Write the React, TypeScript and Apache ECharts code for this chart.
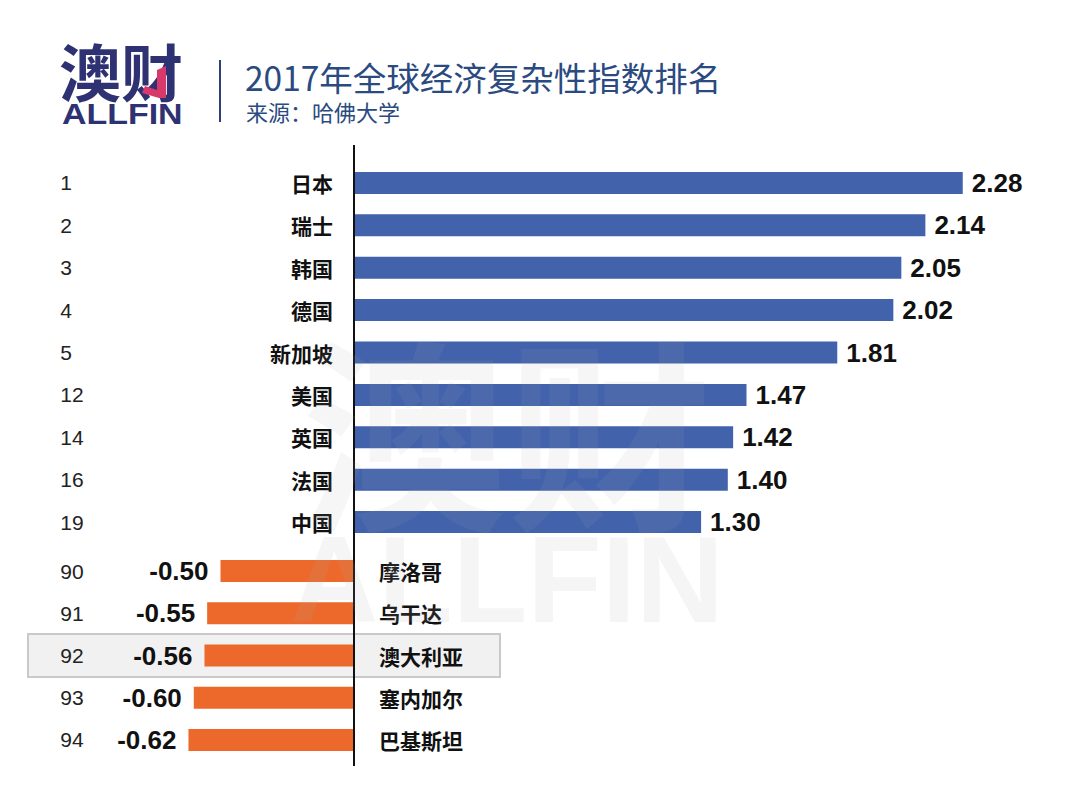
import React, { useEffect, useRef } from "react";
import * as echarts from "echarts";

const ranksTop = ["1", "2", "3", "4", "5", "12", "14", "16", "19"];
const countriesTop = ["日本", "瑞士", "韩国", "德国", "新加坡", "美国", "英国", "法国", "中国"];
const valuesTop = [2.28, 2.14, 2.05, 2.02, 1.81, 1.47, 1.42, 1.4, 1.3];

const ranksBottom = ["90", "91", "92", "93", "94"];
const countriesBottom = ["摩洛哥", "乌干达", "澳大利亚", "塞内加尔", "巴基斯坦"];
const valuesBottom = [-0.5, -0.55, -0.56, -0.6, -0.62];

const titleText = "2017年全球经济复杂性指数排名";
const subtitleText = "来源：哈佛大学";

const FONT = "'Liberation Sans', 'Noto Sans CJK SC', sans-serif";
const CJK = "'Noto Sans CJK SC', sans-serif";
const BLUE = "#4262ac";
const ORANGE = "#ec692b";
const NAVY = "#2e3272";

const K = 267; // px per unit
const ZERO_X = 354;
const X_MIN = -1.1;
const X_MAX = 2.5;

export default function App() {
  const ref = useRef<HTMLDivElement>(null);
  useEffect(() => {
    if (!ref.current) return;
    const chart = echarts.init(ref.current, null, { renderer: "svg" });
    const left = ZERO_X + X_MIN * K;
    const width = (X_MAX - X_MIN) * K;
    const right = 1067 - left - width;
    const rightEdge = left + width;

    const option: any = {
      animation: false,
      backgroundColor: "#ffffff",
      grid: [
        { left, right, top: 161.8, height: 381.4, containLabel: false, outerBoundsMode: "none" },
        { left, right, top: 549.9, height: 211.2, containLabel: false, outerBoundsMode: "none" },
      ],
      xAxis: [
        { type: "value", gridIndex: 0, min: X_MIN, max: X_MAX, show: false },
        { type: "value", gridIndex: 1, min: X_MIN, max: X_MAX, show: false },
      ],
      yAxis: [
        {
          type: "category", gridIndex: 0, data: countriesTop, inverse: true, position: "left",
          offset: -(333 - left),
          axisLine: { show: false, onZero: false }, axisTick: { show: false }, splitLine: { show: false },
          axisLabel: { interval: 0, margin: 0, align: "right", fontSize: 21, fontWeight: "bold", color: "#111", fontFamily: CJK },
        },
        {
          type: "category", gridIndex: 0, data: ranksTop, inverse: true, position: "left",
          axisLine: { show: false, onZero: false }, axisTick: { show: false }, splitLine: { show: false },
          axisLabel: { interval: 0, margin: 0, align: "left", fontSize: 21, color: "#222", fontFamily: FONT },
        },
        {
          type: "category", gridIndex: 1, data: countriesBottom, inverse: true, position: "right",
          offset: -(rightEdge - 379),
          axisLine: { show: false, onZero: false }, axisTick: { show: false }, splitLine: { show: false },
          axisLabel: { interval: 0, margin: 0, align: "left", fontSize: 21, fontWeight: "bold", color: "#111", fontFamily: CJK },
        },
        {
          type: "category", gridIndex: 1, data: ranksBottom, inverse: true, position: "left",
          axisLine: { show: false, onZero: false }, axisTick: { show: false }, splitLine: { show: false },
          axisLabel: { interval: 0, margin: 0, align: "left", fontSize: 21, color: "#222", fontFamily: FONT },
        },
      ],
      series: [
        {
          type: "bar", xAxisIndex: 0, yAxisIndex: 0, data: valuesTop, barWidth: 22,
          itemStyle: { color: BLUE },
          label: {
            show: true, position: "right", distance: 9, fontSize: 26, fontWeight: "bold", color: "#111",
            fontFamily: FONT, formatter: (p: any) => Number(p.value).toFixed(2),
          },
          z: 3,
        },
        {
          type: "bar", xAxisIndex: 1, yAxisIndex: 2, data: valuesBottom, barWidth: 22,
          itemStyle: { color: ORANGE },
          label: {
            show: true, position: "left", distance: 12, fontSize: 26, fontWeight: "bold", color: "#111",
            fontFamily: FONT, formatter: (p: any) => Number(p.value).toFixed(2),
          },
          z: 3,
        },
      ],
      graphic: [
        // highlight box for Australia row
        {
          type: "rect", z: 0, zlevel: 0,
          shape: { x: 28, y: 634, width: 472, height: 43 },
          style: { fill: "#f1f1f1", stroke: "#c9c9c9", lineWidth: 2 },
        },
        // logo
        {
          type: "text", x: 59, y: 70, z: 10,
          style: { text: "澳财", font: `bold 62px ${CJK}`, fill: NAVY, verticalAlign: "middle", align: "left" },
        },
        {
          type: "polygon", z: 11,
          shape: { points: [[157, 70], [166, 66], [166, 98], [159, 98], [142, 93], [145, 86], [157, 90]] },
          style: { fill: "#d8386a" },
        },
        {
          type: "text", x: 62, y: 114, z: 10, scaleX: 1.17, originX: 0, originY: 0,
          style: { text: "ALLFIN", font: `bold 29px ${FONT}`, fill: NAVY, verticalAlign: "middle", align: "left" },
        },
        // separator
        {
          type: "line", z: 10,
          shape: { x1: 220, y1: 60, x2: 220, y2: 122 },
          style: { stroke: "#2e3f78", lineWidth: 2 },
        },
        {
          type: "text", x: 245, y: 76, z: 10,
          style: { text: titleText, font: `33.5px ${CJK}`, fill: "#2a4a80", verticalAlign: "middle", align: "left" },
        },
        {
          type: "text", x: 246, y: 111, z: 10,
          style: { text: subtitleText, font: `22px ${CJK}`, fill: "#2a4a80", verticalAlign: "middle", align: "left" },
        },
        // axis line at zero
        {
          type: "line", z: 50,
          shape: { x1: ZERO_X, y1: 145, x2: ZERO_X, y2: 766 },
          style: { stroke: "#111", lineWidth: 2 },
        },
        // watermark
        {
          type: "text", x: 507, y: 425, z: 60,
          style: { text: "澳财", font: `bold 205px ${CJK}`, fill: "rgba(170,170,170,0.1)", verticalAlign: "middle", align: "center" },
        },
        {
          type: "text", x: 507, y: 580, z: 60,
          style: { text: "ALLFIN", font: `bold 122px ${FONT}`, fill: "rgba(170,170,170,0.12)", verticalAlign: "middle", align: "center" },
        },
      ],
    };
    chart.setOption(option);
    return () => chart.dispose();
  }, []);
  return (
    <div
      ref={ref}
      style={{ position: "fixed", left: 0, top: 0, width: 1067, height: 787, background: "#fff" }}
    />
  );
}
